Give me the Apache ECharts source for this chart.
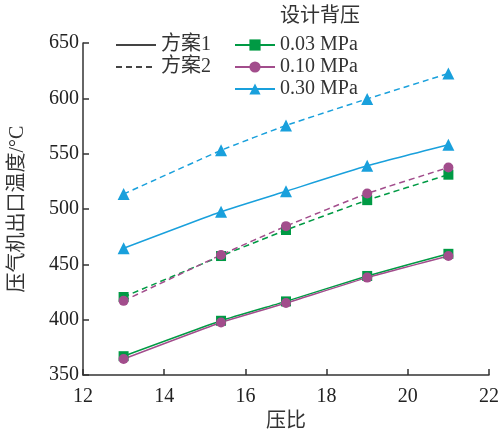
<!DOCTYPE html>
<html>
<head>
<meta charset="utf-8">
<script src="https://cdn.jsdelivr.net/npm/echarts@6/dist/echarts.min.js"></script>
<style>
  html, body { margin: 0; padding: 0; background: #fff; }
  #container { width: 502px; height: 437px; }
</style>
</head>
<body>
<div id="container"></div>
<script>
var pressRatio = [13, 15.4, 17, 19, 21];   // 压比
var pressNames = ['0.03 MPa', '0.10 MPa', '0.30 MPa'];
var schemeNames = ['方案1', '方案2'];
// 方案1
var s1p003 = [367, 399, 416.5, 439.5, 459.5];
var s1p010 = [364.5, 397.5, 415, 438, 457.5];
var s1p030 = [464.5, 497.5, 516, 539, 558];
// 方案2
var s2p003 = [420.5, 457.5, 481, 508, 531];
var s2p010 = [417, 458.5, 484.5, 514, 537.5];
var s2p030 = [513.5, 553, 575.5, 599.5, 622.5];
var xTicks = [12, 14, 16, 18, 20, 22];
var yTicks = [350, 400, 450, 500, 550, 600, 650];

var colors = ['#009a44', '#a24d8c', '#19a0dc'];
var symbols = ['rect', 'circle', 'triangle'];
var symSize = [10, 10, 12];
var font = '"Liberation Serif", "Noto Sans CJK SC", serif';

function pairs(ys) {
  return ys.map(function (v, i) { return [pressRatio[i], v]; });
}

var myChart = echarts.init(document.getElementById('container'));
var groups = [[s1p003, s1p010, s1p030], [s2p003, s2p010, s2p030]];
var series = [];
groups.forEach(function (g, si) {
  g.forEach(function (ys, pi) {
    series.push({
      name: pressNames[pi],
      type: 'line',
      data: pairs(ys),
      smooth: 0.15,
      symbol: symbols[pi],
      symbolSize: symSize[pi],
      itemStyle: { color: colors[pi] },
      lineStyle: { color: colors[pi], width: 1.5, type: si === 0 ? 'solid' : [6, 4] },
      z: si === 0 ? 3 : 2
    });
  });
});
// dummy series for the line-style legend
schemeNames.forEach(function (n, i) {
  series.push({
    name: n,
    type: 'line',
    data: [],
    symbol: 'none',
    itemStyle: { color: '#444' },
    lineStyle: { color: '#444', width: 1.5, type: i === 0 ? 'solid' : [6, 4] }
  });
});

var option = {
  backgroundColor: '#fff',
  animation: false,
  textStyle: { fontFamily: font },
  title: {
    text: '设计背压',
    left: 275,
    top: 2,
    textStyle: { fontFamily: font, fontSize: 20, fontWeight: 'normal', color: '#333' }
  },
  legend: [
    {
      data: schemeNames,
      orient: 'vertical',
      left: 110,
      top: 30,
      itemWidth: 40,
      itemHeight: 14,
      itemGap: 2,
      itemStyle: { opacity: 0 },
      textStyle: { fontFamily: font, fontSize: 20, color: '#333' }
    },
    {
      data: pressNames,
      orient: 'vertical',
      left: 229,
      top: 30,
      itemWidth: 40,
      itemHeight: 14,
      itemGap: 2,
      textStyle: { fontFamily: font, fontSize: 20, color: '#333' }
    }
  ],
  grid: { left: 83, right: 10, top: 43, bottom: 54, containLabel: false },
  xAxis: {
    type: 'value',
    min: xTicks[0],
    max: xTicks[xTicks.length - 1],
    interval: 2,
    name: '压比',
    nameLocation: 'middle',
    nameGap: 37,
    nameTextStyle: { fontFamily: font, fontSize: 20, color: '#333' },
    axisLine: { lineStyle: { color: '#333', width: 1.5 } },
    axisTick: { inside: true, length: 6, lineStyle: { color: '#333', width: 1.5 } },
    axisLabel: { fontFamily: font, fontSize: 20, color: '#222', margin: 12 },
    splitLine: { show: false }
  },
  yAxis: {
    type: 'value',
    min: yTicks[0],
    max: yTicks[yTicks.length - 1],
    interval: 50,
    name: '压气机出口温度/°C',
    nameLocation: 'middle',
    nameGap: 55,
    nameRotate: 90,
    nameTextStyle: { fontFamily: font, fontSize: 20, color: '#333' },
    axisLine: { show: true, lineStyle: { color: '#333', width: 1.5 } },
    axisTick: { show: true, inside: true, length: 6, lineStyle: { color: '#333', width: 1.5 } },
    axisLabel: { fontFamily: font, fontSize: 20, color: '#222', margin: 4 },
    splitLine: { show: false }
  },
  series: series
};
myChart.setOption(option);
</script>
</body>
</html>
